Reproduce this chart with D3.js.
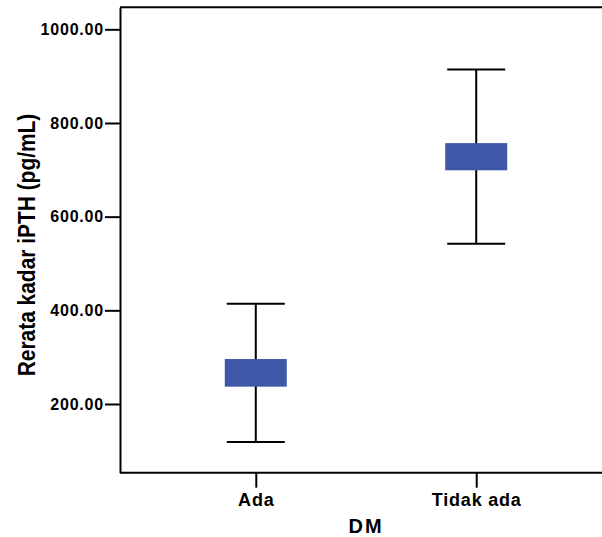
<!DOCTYPE html>
<html>
<head>
<meta charset="utf-8">
<script src="https://cdn.jsdelivr.net/npm/d3@7"></script>
<style>
  body { margin: 0; background: #fff; }
  text { font-family: "Liberation Sans", Arial, sans-serif; font-weight: bold; fill: #000; }
</style>
</head>
<body>
<div class="chart"></div>
<script>
// values
var groups = ["Ada", "Tidak ada"];
var whiskerLow = [119, 542];
var boxLow = [237, 699];
var boxHigh = [296, 757];
var whiskerHigh = [414, 914];
var yTicks = [200, 400, 600, 800, 1000];

var width = 602, height = 537;
var plotLeft = 120, plotTop = 7.3, plotBottom = 472.7;

var svg = d3.select(".chart").append("svg")
    .attr("width", width)
    .attr("height", height);

var x = d3.scalePoint().domain(groups).range([plotLeft, 612]).padding(0.616);
var y = d3.scaleLinear().domain([53.3, 1047]).range([plotBottom, plotTop]);

// y axis
var gy = svg.append("g")
    .attr("transform", "translate(" + plotLeft + ",0)")
    .call(d3.axisLeft(y).tickValues(yTicks).tickFormat(d3.format(".2f"))
      .tickSize(15).tickSizeOuter(0).tickPadding(1));
gy.selectAll("line, path").attr("stroke", "#000").attr("stroke-width", 2);
gy.selectAll("text")
    .style("font-size", "16px")
    .style("letter-spacing", "0.8px")
    .attr("font-family", null);

// x axis
var gx = svg.append("g")
    .attr("transform", "translate(0," + plotBottom + ")")
    .call(d3.axisBottom(x).tickSize(15).tickSizeOuter(0));
gx.select(".domain").attr("d", "M" + plotLeft + ",0H" + width);
gx.selectAll("line, path").attr("stroke", "#000").attr("stroke-width", 2);
gx.selectAll("text")
    .attr("y", 33).attr("dy", 0)
    .style("font-size", "18px")
    .style("letter-spacing", "0.8px")
    .attr("font-family", null);

// top frame line
svg.append("line")
    .attr("x1", plotLeft).attr("x2", width)
    .attr("y1", plotTop).attr("y2", plotTop)
    .attr("stroke", "#000").attr("stroke-width", 2);

// whiskers and boxes
var g = svg.append("g");
groups.forEach(function(d, i) {
  var cx = x(d);
  g.append("line")
    .attr("x1", cx).attr("x2", cx)
    .attr("y1", y(whiskerLow[i])).attr("y2", y(whiskerHigh[i]))
    .attr("stroke", "#000").attr("stroke-width", 2);
  [whiskerLow[i], whiskerHigh[i]].forEach(function(v) {
    g.append("line")
      .attr("x1", cx - 29).attr("x2", cx + 29)
      .attr("y1", y(v)).attr("y2", y(v))
      .attr("stroke", "#000").attr("stroke-width", 2);
  });
  g.append("rect")
    .attr("x", cx - 31)
    .attr("width", 62)
    .attr("y", y(boxHigh[i]))
    .attr("height", y(boxLow[i]) - y(boxHigh[i]))
    .attr("fill", "#3f57a8");
});

// axis titles
svg.append("text")
    .attr("x", 366).attr("y", 533)
    .attr("text-anchor", "middle")
    .style("font-size", "20px")
    .style("letter-spacing", "2px")
    .text("DM");

svg.append("text")
    .attr("transform", "translate(35,245) rotate(-90) scale(0.91,1)")
    .attr("text-anchor", "middle")
    .style("font-size", "23px")
    .text("Rerata kadar iPTH (pg/mL)");
</script>
</body>
</html>
